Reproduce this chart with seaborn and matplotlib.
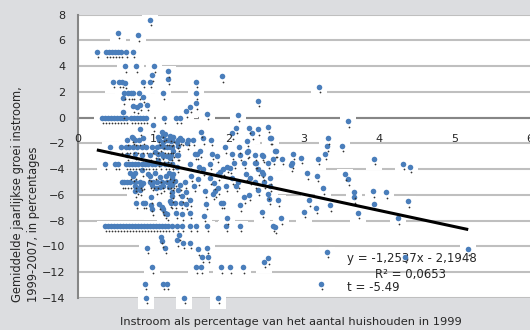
import numpy as np
import pandas as pd
import matplotlib
matplotlib.use("Agg")
import matplotlib.pyplot as plt
import matplotlib.transforms as mtransforms
import seaborn as sns

# --- data: inflow (% of households, 1999) vs. mean yearly growth of inflow 1999-2007 (%) ---
# municipalities sharing one growth value
row_5_1_x = [0.25, 0.37, 0.41, 0.45, 0.49, 0.53, 0.57, 0.64, 0.73]
row_0_x = [0.32, 0.36, 0.40, 0.44, 0.48, 0.52, 0.56, 0.60, 0.64, 0.70, 0.74, 0.78,
           0.82, 0.86, 0.90, 1.14, 1.30, 1.35]
row_m2_3_x = [0.42, 0.57, 0.64, 0.68, 0.73, 0.78, 0.85, 0.90, 0.98, 1.05, 1.14, 1.22]
row_m3_6_x = [0.36, 0.49, 0.53, 0.64, 0.68, 0.72, 0.76, 0.80, 0.85, 0.89, 0.93, 0.98,
              1.02, 1.09, 1.16, 1.20, 1.25]
row_m5_0_x = [0.58, 0.61, 0.65, 0.69, 0.76, 0.82, 0.96, 1.00, 1.05, 1.12, 1.18, 1.22, 1.26]
row_m8_4_x = [0.36, 0.40, 0.44, 0.48, 0.52, 0.56, 0.60, 0.64, 0.68, 0.72, 0.76, 0.80,
              0.84, 0.88, 0.92, 0.96, 1.00, 1.04, 1.08, 1.12, 1.16, 1.20, 1.25, 1.31,
              1.38, 1.49, 1.57, 1.71, 1.97, 2.15]

# remaining municipalities as (inflow, growth)
upper_pts = [(0.96, 7.6), (0.53, 6.6), (0.80, 6.4),
             (0.62, 4.0), (0.77, 4.0), (1.01, 4.0), (1.20, 3.6), (0.98, 3.3), (1.20, 3.0),
             (1.91, 3.2), (0.47, 2.8), (0.54, 2.8), (0.58, 2.8), (0.62, 2.7), (0.86, 2.8),
             (0.96, 2.8), (1.57, 2.8), (0.61, 1.9), (0.66, 1.9), (0.70, 1.9), (0.73, 1.9),
             (0.81, 1.9), (1.13, 1.9), (1.57, 1.9), (0.60, 1.5), (0.86, 1.6), (0.73, 0.9),
             (0.78, 0.8), (0.82, 1.0), (0.92, 1.0), (0.60, 0.4), (1.57, 1.1), (1.43, 0.5),
             (1.49, 0.85), (1.71, 0.3), (2.12, 0.2), (2.39, 1.3), (3.20, 2.4)]

near_zero_pts = [(1.00, -0.6), (0.82, -0.9), (0.73, -1.6), (0.86, -1.6), (1.06, -1.5),
                 (1.13, -1.4), (1.17, -1.7), (1.24, -1.8), (1.08, -1.7), (1.13, -1.9),
                 (0.65, -1.7), (0.72, -1.5), (0.76, -1.7), (0.81, -1.7), (1.22, -1.4),
                 (0.96, -2.9), (1.06, -2.8), (1.18, -3.0), (0.85, -2.9), (0.65, -2.9),
                 (0.76, -2.8), (1.12, -2.8), (1.24, -2.9), (1.12, -1.1), (1.16, -1.3),
                 (1.20, -1.7), (1.26, -1.5), (1.31, -1.9), (1.35, -1.6), (1.09, -2.2),
                 (1.18, -2.3), (1.26, -2.6), (1.31, -2.9), (1.22, -3.1), (1.13, -3.0),
                 (1.02, -2.7), (1.06, -3.3),
                 (1.63, -1.1), (1.66, -1.6), (1.25, -1.7), (1.33, -1.7), (1.38, -1.7),
                 (1.46, -1.7), (1.53, -1.7), (1.77, -1.7), (2.05, -1.2), (2.10, -0.8),
                 (2.27, -0.8), (2.39, -0.9), (2.52, -0.7), (2.55, -1.6), (2.24, -1.8),
                 (2.31, -1.2), (1.95, -2.3), (2.14, -2.3), (2.25, -2.6), (1.58, -2.8),
                 (1.62, -2.6), (1.33, -2.2), (1.25, -2.3), (1.45, -2.0), (1.84, -3.0),
                 (2.05, -2.8), (2.15, -2.9), (2.35, -2.9), (2.44, -2.9), (2.62, -2.6),
                 (1.55, -2.8), (1.78, -2.8), (2.24, -2.7), (1.33, -2.9),
                 (3.59, -0.3), (3.32, -1.6), (2.56, -1.6), (3.51, -2.2), (3.31, -2.2),
                 (3.28, -2.8), (2.63, -2.6), (2.86, -2.8), (2.96, -3.1), (2.46, -3.0),
                 (2.71, -3.2), (3.19, -3.2), (2.84, -3.5), (2.36, -3.5), (3.93, -3.2),
                 (4.32, -3.6), (4.41, -3.8)]

middle_pts = [(0.69, -4.3), (0.73, -4.5), (0.76, -4.3), (0.85, -4.1), (0.93, -4.4),
              (0.96, -4.5), (1.02, -4.3), (1.09, -4.6), (1.17, -4.5), (1.21, -4.3),
              (1.26, -4.4), (0.76, -5.3), (0.78, -5.5), (0.84, -5.2), (0.86, -5.1),
              (0.98, -5.2), (1.04, -5.5), (1.09, -5.4), (1.13, -5.3), (1.21, -5.4),
              (1.25, -5.2), (0.76, -5.7), (0.82, -5.6), (0.89, -6.6), (0.97, -6.2),
              (0.77, -6.6), (0.86, -6.6), (0.97, -6.8), (0.98, -7.1), (1.08, -6.7),
              (1.12, -6.9), (1.13, -7.1), (1.16, -7.4), (1.18, -7.5), (1.24, -6.6),
              (1.25, -6.1), (1.22, -6.5),
              (1.25, -3.6), (1.31, -3.8), (1.49, -3.6), (1.61, -3.8), (1.66, -4.0),
              (1.75, -3.6), (1.93, -4.0), (1.98, -3.8), (2.07, -3.5), (2.20, -3.5),
              (2.23, -4.4), (2.35, -3.5), (2.39, -4.0), (2.44, -4.2), (1.89, -4.2),
              (2.02, -3.9), (1.25, -4.6), (1.29, -4.9), (1.35, -5.2), (1.42, -5.0),
              (1.33, -5.6), (1.43, -5.8), (1.25, -5.8), (1.38, -6.1), (1.49, -6.4),
              (1.29, -6.6), (1.37, -6.6), (1.43, -6.7), (1.69, -5.7), (1.79, -5.9),
              (1.82, -5.7), (1.86, -5.5), (1.90, -6.6), (1.93, -6.6), (2.15, -6.8),
              (2.20, -6.2), (2.27, -6.0), (1.70, -6.7), (2.44, -7.3), (1.67, -7.6),
              (1.30, -7.4), (1.38, -7.5), (1.49, -7.4), (1.50, -4.5), (1.59, -4.8),
              (1.75, -4.7), (1.86, -4.4), (2.05, -4.7), (2.12, -5.0), (2.28, -4.7),
              (1.54, -5.3), (1.80, -5.1), (1.97, -5.3), (2.10, -5.3), (2.35, -5.0),
              (2.39, -5.6), (1.98, -7.8), (2.54, -6.3),
              (2.52, -3.5), (2.59, -3.2), (2.83, -3.7), (2.46, -4.4), (2.55, -4.7),
              (2.47, -5.0), (2.55, -5.3), (3.04, -4.3), (3.17, -4.5), (3.25, -5.5),
              (2.52, -5.9), (2.66, -6.4), (3.06, -6.4), (3.34, -6.8), (3.16, -7.0),
              (3.00, -7.3), (2.70, -7.8), (2.59, -8.4), (2.62, -8.5),
              (3.55, -4.4), (3.59, -4.8), (3.67, -5.8), (3.67, -6.2), (3.92, -5.7),
              (4.09, -5.8), (3.93, -6.7), (3.72, -7.4), (4.38, -6.5), (4.25, -7.8)]

lower_pts = [(1.10, -9.3), (1.12, -9.6), (0.91, -10.1), (1.16, -10.1), (0.98, -11.6),
             (0.89, -12.9), (1.13, -12.9), (1.18, -12.9), (0.90, -14.0), (1.41, -14.0),
             (1.86, -14.0), (1.57, -11.6), (1.63, -11.6), (1.90, -11.6), (2.02, -11.6),
             (2.19, -11.6), (2.47, -11.2), (2.52, -10.9), (1.65, -10.8), (1.73, -10.8),
             (1.59, -10.2), (1.71, -10.1), (1.31, -9.5), (1.34, -9.1), (1.39, -9.7),
             (1.49, -9.7), (3.30, -10.4), (3.22, -12.9), (5.18, -10.2), (4.34, -10.8)]

# regression statistics printed on the chart
slope = -1.2537
intercept = -2.1948
r_squared = 0.0653
t_value = -5.49

x_ticks = [0, 1, 2, 3, 4, 5, 6]
y_ticks = list(range(-14, 9, 2))

x_title = "Instroom als percentage van het aantal huishouden in 1999"
y_title = "Gemiddelde jaarlijkse groei instroom,\n1999-2007, in percentages"

# --- assemble table ---
rows = []
for xs, level in [(row_5_1_x, 5.1), (row_0_x, 0.0), (row_m2_3_x, -2.3),
                  (row_m3_6_x, -3.6), (row_m5_0_x, -5.0), (row_m8_4_x, -8.4)]:
    rows += [(x, level) for x in xs]
rows += upper_pts + near_zero_pts + middle_pts + lower_pts
df = pd.DataFrame(rows, columns=["inflow", "growth"])

# --- figure ---
sns.set_style("white")
plt.rcParams["font.family"] = ["DejaVu Sans"]

BG = "#dcdde0"
AXIS = "#868686"
BLUE = "#4a7ebb"

fig = plt.figure(figsize=(5.3, 3.3), dpi=100, facecolor=BG)
ax = fig.add_axes([0.1472, 0.097, 0.8528, 0.859])
ax.set_facecolor("white")

# white label boxes behind every marker, and the tiny label dot under it
halo_tr = ax.transData + mtransforms.ScaledTranslation(0, -3 / 100, fig.dpi_scale_trans)
dot_tr = ax.transData + mtransforms.ScaledTranslation(1 / 100, -5.5 / 100, fig.dpi_scale_trans)
ax.scatter(df["inflow"], df["growth"], marker="s", s=120, c="white", linewidths=0,
           zorder=2.6, transform=halo_tr, clip_on=False)
ax.scatter(df["inflow"], df["growth"], marker="o", s=1.6, c="#333333", linewidths=0,
           zorder=3.5, transform=dot_tr, clip_on=False)

sns.scatterplot(data=df, x="inflow", y="growth", ax=ax, color=BLUE, s=16,
                linewidth=0, zorder=3, clip_on=False, legend=False)

# linear trend over the observed inflow range
xr = np.array([df["inflow"].min(), df["inflow"].max()])
ax.plot(xr, slope * xr + intercept, color="black", lw=2.2, zorder=4,
        solid_capstyle="butt")

ax.set_xlim(0, 6)
ax.set_ylim(-14, 8)
ax.set_xticks(x_ticks)
ax.set_yticks(y_ticks)
ax.set_xlabel("")
ax.set_ylabel("")

ax.yaxis.grid(True, color="#bfbfbf", lw=1.5)
ax.xaxis.grid(False)
ax.yaxis.set_zorder(0.5)
ax.xaxis.set_zorder(5)

for side in ("top", "right"):
    ax.spines[side].set_visible(False)
ax.spines["left"].set_color(AXIS)
ax.spines["left"].set_linewidth(1.5)
ax.spines["bottom"].set_color(AXIS)
ax.spines["bottom"].set_linewidth(1.5)
ax.spines["bottom"].set_position(("data", 0))

ax.tick_params(axis="x", direction="out", length=3, width=1.5, color=AXIS,
               pad=9, labelsize=8)
ax.tick_params(axis="y", direction="out", length=3, width=1.5, color=AXIS,
               pad=6, labelsize=8)

# regression annotation
eq = f"y = {slope:.4f}x - {abs(intercept):.4f}".replace(".", ",")
ax.text(3.57, -10.93, eq, ha="left", va="center", fontsize=8.5, zorder=2.8)
ax.text(4.41, -12.17, f"R² = {r_squared:.4f}".replace(".", ","), ha="center",
        va="center", fontsize=8.5, zorder=2.8)
ax.text(3.57, -13.18, f"t = {t_value:.2f}", ha="left", va="center", fontsize=8.5,
        zorder=2.8)

fig.text(291 / 530, 1 - 322 / 330, x_title, ha="center", va="center", fontsize=8.2)
fig.text(25.5 / 530, 1 - 302 / 330, y_title, rotation=90, ha="center", va="bottom",
         multialignment="left", fontsize=8.3, linespacing=1.25)

fig.savefig("out.png", dpi=100, facecolor=BG)
